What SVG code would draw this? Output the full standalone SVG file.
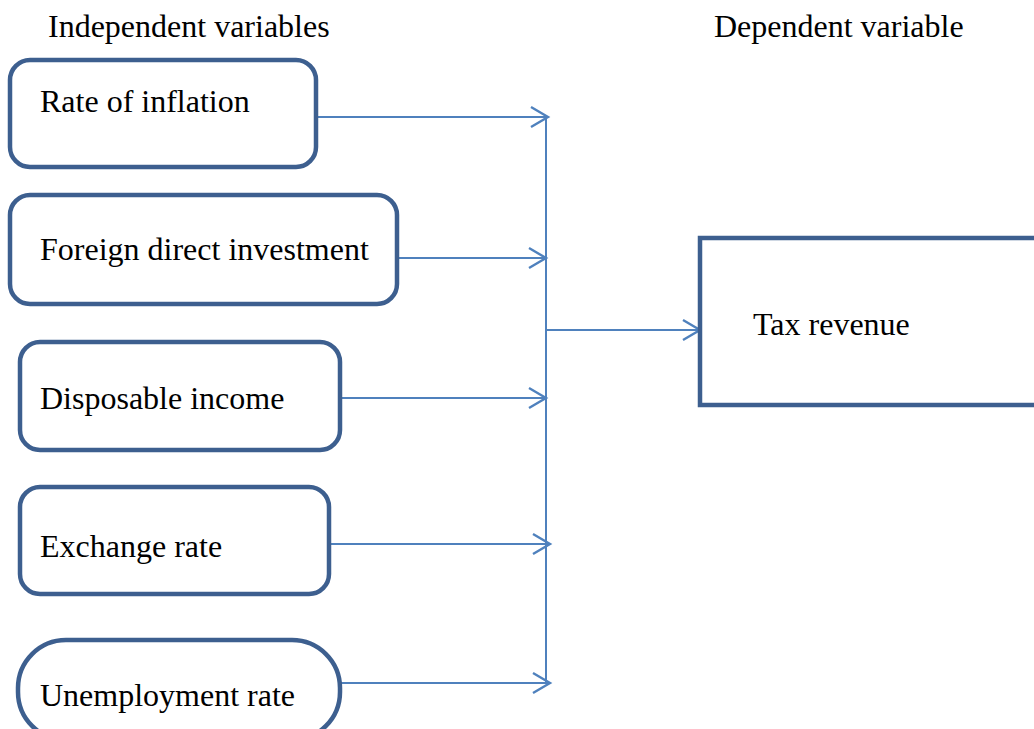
<svg xmlns="http://www.w3.org/2000/svg" width="1034" height="729" viewBox="0 0 1034 729">
<style>
.box{fill:#fff;stroke:#3d5f8f;stroke-width:4.5}
.t{font-family:"Liberation Serif","Times New Roman",serif;font-size:32px;fill:#000}
.c{fill:none;stroke:#4f81bd;stroke-width:2}
</style>
<defs>
<marker id="ah" markerUnits="userSpaceOnUse" markerWidth="24" markerHeight="26" refX="20" refY="13" orient="auto">
<path d="M3,3 L20,13 L3,23" fill="none" stroke="#4f81bd" stroke-width="2.4"/>
</marker>
</defs>
<rect width="1034" height="729" fill="#fff"/>
<text class="t" x="48" y="37">Independent variables</text>
<text class="t" x="714" y="37">Dependent variable</text>
<g id="connectors">
<line class="c" x1="546" y1="117" x2="546" y2="684"/>
<line class="c" x1="316" y1="117" x2="548" y2="117" marker-end="url(#ah)"/>
<line class="c" x1="397" y1="258" x2="546" y2="258" marker-end="url(#ah)"/>
<line class="c" x1="340" y1="398" x2="546" y2="398" marker-end="url(#ah)"/>
<line class="c" x1="329" y1="544" x2="550" y2="544" marker-end="url(#ah)"/>
<line class="c" x1="340" y1="683" x2="550" y2="683" marker-end="url(#ah)"/>
<line class="c" x1="546" y1="330" x2="700" y2="330" marker-end="url(#ah)"/>
</g>
<g id="n1"><rect class="box" x="10" y="60" width="306" height="107" rx="20"/><text class="t" x="40" y="112">Rate of inflation</text></g>
<g id="n2"><rect class="box" x="10" y="195" width="387" height="109" rx="20"/><text class="t" x="40" y="260">Foreign direct investment</text></g>
<g id="n3"><rect class="box" x="20" y="342" width="320" height="108" rx="20"/><text class="t" x="40" y="409">Disposable income</text></g>
<g id="n4"><rect class="box" x="20" y="487" width="309" height="107" rx="20"/><text class="t" x="40" y="557">Exchange rate</text></g>
<g id="n5"><rect class="box" x="18" y="640" width="322" height="100" rx="48"/><text class="t" x="40" y="706">Unemployment rate</text></g>
<g id="n6"><rect class="box" x="700" y="238" width="345" height="167" rx="0"/><text class="t" x="753" y="335">Tax revenue</text></g>
</svg>
